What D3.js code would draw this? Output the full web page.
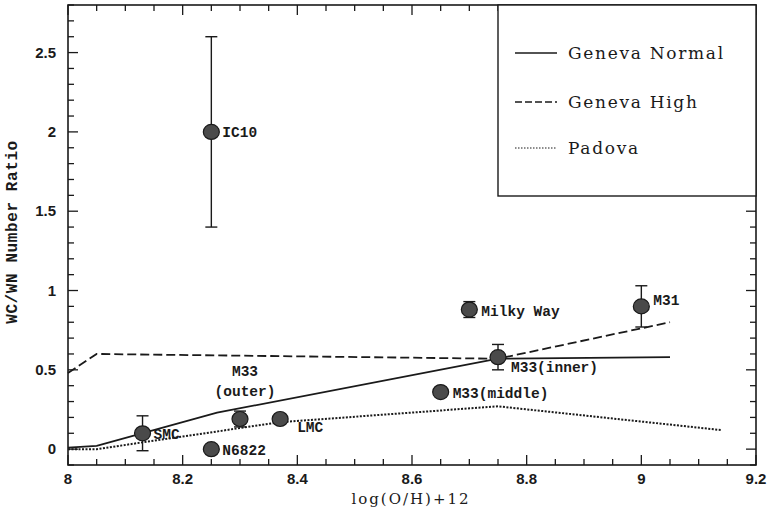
<!DOCTYPE html>
<html>
<head>
<meta charset="utf-8">
<script src="https://cdn.jsdelivr.net/npm/d3@7"></script>
<style>
  body { margin: 0; background: #fff; }
  svg { display: block; }
</style>
</head>
<body>
<svg id="chart" width="768" height="510"></svg>
<script>
// observed galaxies
var galaxies = ["IC10", "SMC", "N6822", "M33(outer)", "LMC", "M33(middle)", "Milky Way", "M33(inner)", "M31"];
var logOH   = [8.25, 8.13, 8.25, 8.30, 8.37, 8.65, 8.70, 8.75, 9.00];
var ratio   = [2.00, 0.10, 0.00, 0.19, 0.19, 0.36, 0.88, 0.58, 0.90];
var errLow  = [1.40, -0.01, null, 0.14, null, null, 0.83, 0.50, 0.77];
var errHigh = [2.60, 0.21, null, 0.24, null, null, 0.93, 0.66, 1.03];

// model curves
var genevaNormalX = [8.00, 8.05, 8.26, 8.75, 9.05];
var genevaNormalY = [0.01, 0.02, 0.23, 0.57, 0.58];
var genevaHighX = [8.00, 8.05, 8.75, 9.05];
var genevaHighY = [0.48, 0.60, 0.57, 0.80];
var padovaX = [8.00, 8.05, 8.37, 8.75, 9.14];
var padovaY = [0.00, 0.00, 0.17, 0.27, 0.12];

var xTicks = [8, 8.2, 8.4, 8.6, 8.8, 9, 9.2];
var yTicks = [0, 0.5, 1, 1.5, 2, 2.5];
var legendNames = ["Geneva Normal", "Geneva High", "Padova"];

var svg = d3.select("#chart");
var plotL = 68, plotR = 756, plotT = 5, plotB = 465;

var x = d3.scaleLinear().domain([8, 9.2]).range([plotL, plotR]);
var y = d3.scaleLinear().domain([-0.1, 2.8]).range([plotB, plotT]);

var ink = "#1a1a1a";
var monoFont = "'Liberation Mono', 'DejaVu Sans Mono', monospace";
var serifFont = "'DejaVu Serif', 'Liberation Serif', serif";

// frame
svg.append("rect")
    .attr("x", plotL).attr("y", plotT)
    .attr("width", plotR - plotL).attr("height", plotB - plotT)
    .attr("fill", "none").attr("stroke", ink).attr("stroke-width", 1.6);

// ticks (inward, mirrored on all four sides)
var xMinor = d3.range(8, 9.2001, 0.05);
var yMinor = d3.range(-0.1, 2.8001, 0.1);
var g = svg.append("g").attr("stroke", ink).attr("stroke-width", 1.3);
xMinor.forEach(function(v) {
    var major = Math.abs(v * 5 - Math.round(v * 5)) < 1e-6;
    var len = major ? 10 : 6;
    g.append("line").attr("x1", x(v)).attr("x2", x(v)).attr("y1", plotB).attr("y2", plotB - len);
    g.append("line").attr("x1", x(v)).attr("x2", x(v)).attr("y1", plotT).attr("y2", plotT + len);
});
yMinor.forEach(function(v) {
    var major = Math.abs(v * 2 - Math.round(v * 2)) < 1e-6;
    var len = major ? 10 : 6;
    g.append("line").attr("y1", y(v)).attr("y2", y(v)).attr("x1", plotL).attr("x2", plotL + len);
    g.append("line").attr("y1", y(v)).attr("y2", y(v)).attr("x1", plotR).attr("x2", plotR - len);
});

// tick labels
svg.append("g").selectAll("text").data(xTicks).enter().append("text")
    .attr("x", function(d) { return x(d); })
    .attr("y", 484)
    .attr("text-anchor", "middle")
    .attr("font-family", "'Liberation Sans', Arial, sans-serif")
    .attr("font-weight", "bold")
    .attr("font-size", 15)
    .attr("fill", ink)
    .text(function(d) { return d3.format("")(d); });

svg.append("g").selectAll("text").data(yTicks).enter().append("text")
    .attr("x", 56)
    .attr("y", function(d) { return y(d) + 5; })
    .attr("text-anchor", "end")
    .attr("font-family", "'Liberation Sans', Arial, sans-serif")
    .attr("font-weight", "bold")
    .attr("font-size", 15)
    .attr("fill", ink)
    .text(function(d) { return d3.format("")(d); });

// axis titles
svg.append("text")
    .attr("x", 411).attr("y", 504)
    .attr("text-anchor", "middle")
    .attr("font-family", serifFont)
    .attr("font-size", 15)
    .attr("letter-spacing", 2)
    .attr("fill", ink)
    .text("log(O/H)+12");

svg.append("text")
    .attr("transform", "translate(17,232) rotate(-90)")
    .attr("text-anchor", "middle")
    .attr("font-family", monoFont)
    .attr("font-weight", "bold")
    .attr("font-size", 16)
    .attr("letter-spacing", 0.6)
    .attr("fill", ink)
    .text("WC/WN Number Ratio");

// model lines
var line = d3.line().x(function(d) { return x(d[0]); }).y(function(d) { return y(d[1]); });
var models = [
    { pts: d3.zip(genevaNormalX, genevaNormalY), dash: null, width: 1.8 },
    { pts: d3.zip(genevaHighX, genevaHighY), dash: "9,4", width: 1.8 },
    { pts: d3.zip(padovaX, padovaY), dash: "2,1.5", width: 2 }
];
models.forEach(function(m) {
    svg.append("path")
        .attr("d", line(m.pts))
        .attr("fill", "none")
        .attr("stroke", ink)
        .attr("stroke-width", m.width)
        .attr("stroke-dasharray", m.dash);
});

// error bars
var obs = galaxies.map(function(name, i) {
    return { name: name, x: logOH[i], y: ratio[i], lo: errLow[i], hi: errHigh[i] };
});
var eb = svg.append("g").attr("stroke", ink).attr("stroke-width", 1.4);
obs.filter(function(d) { return d.lo !== null; }).forEach(function(d) {
    eb.append("line").attr("x1", x(d.x)).attr("x2", x(d.x)).attr("y1", y(d.lo)).attr("y2", y(d.hi));
    [d.lo, d.hi].forEach(function(v) {
        eb.append("line").attr("x1", x(d.x) - 6).attr("x2", x(d.x) + 6).attr("y1", y(v)).attr("y2", y(v));
    });
});

// points
svg.append("g").selectAll("ellipse").data(obs).enter().append("ellipse")
    .attr("cx", function(d) { return x(d.x); })
    .attr("cy", function(d) { return y(d.y); })
    .attr("rx", 8).attr("ry", 7.5)
    .attr("fill", "#4a4a4a")
    .attr("stroke", "#1a1a1a")
    .attr("stroke-width", 1.2);

// labels: offsets from the point, in pixels
var labelPos = {
    "IC10": [11, 5, "start"],
    "SMC": [11, 6, "start"],
    "N6822": [11, 6, "start"],
    "LMC": [17, 13, "start"],
    "M33(middle)": [12, 6, "start"],
    "Milky Way": [12, 6, "start"],
    "M33(inner)": [13, 15, "start"],
    "M31": [12, -1, "start"]
};
var labels = svg.append("g")
    .attr("font-family", monoFont)
    .attr("font-size", 14.5)
    .attr("font-weight", 600)
    .attr("fill", ink);
obs.forEach(function(d) {
    var p = labelPos[d.name];
    if (!p) return;
    labels.append("text")
        .attr("x", x(d.x) + p[0])
        .attr("y", y(d.y) + p[1])
        .attr("text-anchor", p[2])
        .text(d.name);
});
// M33 (outer) is written in two lines above the point
var outer = obs[3];
labels.append("text").attr("x", x(outer.x) + 5).attr("y", y(outer.y) - 43)
    .attr("text-anchor", "middle").text("M33");
labels.append("text").attr("x", x(outer.x) + 5).attr("y", y(outer.y) - 23)
    .attr("text-anchor", "middle").text("(outer)");

// legend box
svg.append("rect")
    .attr("x", 498).attr("y", plotT)
    .attr("width", plotR - 498).attr("height", 196 - plotT)
    .attr("fill", "#fff").attr("stroke", ink).attr("stroke-width", 1.4);

var legend = svg.append("g").selectAll("g").data(legendNames).enter().append("g")
    .attr("transform", function(d, i) { return "translate(515," + [53, 102, 148][i] + ")"; });
legend.append("line")
    .attr("x1", 0).attr("x2", 42).attr("y1", 0).attr("y2", 0)
    .attr("stroke", ink)
    .attr("stroke-width", function(d, i) { return i === 2 ? 1 : 1.4; })
    .attr("stroke-dasharray", function(d, i) { return [null, "7,3", "1.5,1.5"][i]; });
legend.append("text")
    .attr("x", 53).attr("y", 6)
    .attr("font-family", serifFont)
    .attr("font-size", 17)
    .attr("letter-spacing", 1.7)
    .attr("fill", ink)
    .text(function(d) { return d; });
</script>
</body>
</html>
